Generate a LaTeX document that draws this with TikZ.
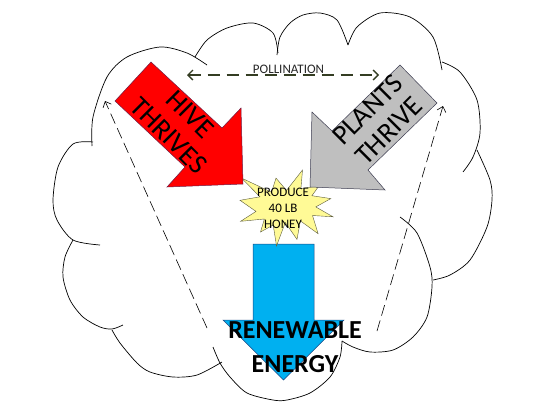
\documentclass[tikz,border=0pt]{standalone}
\usepackage{fontspec}
\setmainfont{Carlito}
\usetikzlibrary{arrows.meta}
\definecolor{hivered}{RGB}{255,0,0}
\definecolor{hiveedge}{RGB}{110,30,70}
\definecolor{plantgray}{RGB}{191,191,191}
\definecolor{plantedge}{RGB}{60,60,80}
\definecolor{energyblue}{RGB}{0,176,240}
\definecolor{energyedge}{RGB}{30,70,130}
\definecolor{honeyyellow}{RGB}{255,250,150}
\definecolor{honeyedge}{RGB}{90,90,60}
\definecolor{pollgreen}{RGB}{52,61,35}
\begin{document}
\begin{tikzpicture}[x=1pt,y=-1pt]
\tikzstyle{every node}+=[inner sep=0pt]
\tikzstyle{lobe}=[black, line width=0.7pt]
\tikzstyle{sidearrow}=[black, line width=0.6pt, dash pattern=on 11pt off 5pt, -{Straight Barb[length=5pt,width=9pt]}]
\tikzstyle{pollarrow}=[pollgreen, line width=1.3pt, dash pattern=on 12pt off 7pt, {Straight Barb[length=5pt,width=10pt]}-{Straight Barb[length=5pt,width=10pt]}]
\tikzstyle{armtext}=[black, align=center, font=\fontsize{28}{30}\selectfont]
\useasboundingbox (0,0) rectangle (540,405);
\draw [lobe] plot [smooth] coordinates {(92,146) (93,117) (107,77) (127,57) (160,47) (187,53) (207,65)};
\draw [lobe] plot [smooth] coordinates {(195,57) (207,40) (227,28) (253,23) (273,33) (278,53)};
\draw [lobe] plot [smooth] coordinates {(277,55) (280,37) (290,23) (303,15) (320,13) (337,20) (348,45)};
\draw [lobe] plot [smooth] coordinates {(348,45) (357,27) (380,13) (410,17) (433,37) (442,70)};
\draw [lobe] plot [smooth] coordinates {(442,62) (460,72) (477,100) (480,133) (473,157) (463,172)};
\draw [lobe] plot [smooth] coordinates {(477,150) (490,180) (492,200) (487,227) (470,260) (450,275) (433,280)};
\draw [lobe] plot [smooth] coordinates {(400,217) (417,233) (430,267) (432,287) (427,317) (413,337) (393,350) (370,352) (353,347) (342,341)};
\draw [lobe] plot [smooth] coordinates {(213,347) (220,363) (230,377) (247,393) (273,400) (287,400) (310,393) (330,377) (340,357) (342,341)};
\draw [lobe] plot [smooth] coordinates {(112,330) (120,343) (137,363) (150,372) (173,377) (197,375) (222,362)};
\draw [lobe] plot [smooth] coordinates {(73,240) (65,257) (63,277) (70,300) (83,317) (100,327) (112,329) (123,325)};
\draw [lobe] plot [smooth] coordinates {(93,142) (73,144) (58,167) (53,200) (57,220) (73,240) (100,245)};
\coordinate (leftfoot) at (207,328);
\coordinate (lefttop) at (105,101);
\coordinate (rightfoot) at (377,331);
\coordinate (righttop) at (443,106);
\coordinate (pollL) at (187,75);
\coordinate (pollR) at (379,75);
\draw [sidearrow] (leftfoot) -- (lefttop);
\draw [sidearrow] (rightfoot) -- (righttop);
\draw [pollarrow] (pollL) -- (pollR);
\node [anchor=base, black!85, font=\fontsize{13}{15}\selectfont] (poll) at (288.5,73) {POLLINATION};
\filldraw [fill=energyblue, draw=energyedge, line width=0.5pt] (253,244) -- (314,244) -- (314,320) -- (344,320) -- (283.5,380) -- (223,320) -- (253,320) -- cycle;
\filldraw [fill=honeyyellow, draw=honeyedge, line width=0.4pt] (286.5,190.4) -- (302.5,170) -- (300.9,188.7) -- (319.1,185.7) -- (311.9,195.7) -- (330.8,198.6) -- (315.8,206.9) -- (333,216.8) -- (312.5,215.5) -- (318.1,233.7) -- (300.4,220.9) -- (297,239.4) -- (285.3,222.5) -- (276.5,246) -- (273.2,225) -- (260.5,232) -- (264.4,219) -- (240.6,221.3) -- (256,211.4) -- (240,200.3) -- (259.9,196.8) -- (241.6,178.1) -- (271.5,192.2) -- (276,178.1) -- cycle;
\filldraw [fill=hivered, draw=hiveedge, line width=0.5pt] (151,62) -- (222,128) -- (241,108) -- (243,184) -- (167,187) -- (185,167) -- (115,101) -- cycle;
\filldraw [fill=plantgray, draw=plantedge, line width=0.5pt] (400,65) -- (437,103) -- (368,170) -- (385,190) -- (310,187) -- (312,112) -- (332,131) -- cycle;
\node [armtext, rotate=-45] (hive) at (179.5,125) {HIVE\\THRIVES};
\node [armtext, rotate=45] (plants) at (378.3,120.3) {PLANTS\\THRIVE};
\node [black, align=center, font=\fontsize{13}{16}\selectfont] (honey) at (283,208.3) {PRODUCE\\40 LB\\HONEY};
\node [black, align=center, font=\fontsize{26}{34}\selectfont\bfseries] (energy) at (295,346.7) {RENEWABLE\\ENERGY};
\end{tikzpicture}
\end{document}
